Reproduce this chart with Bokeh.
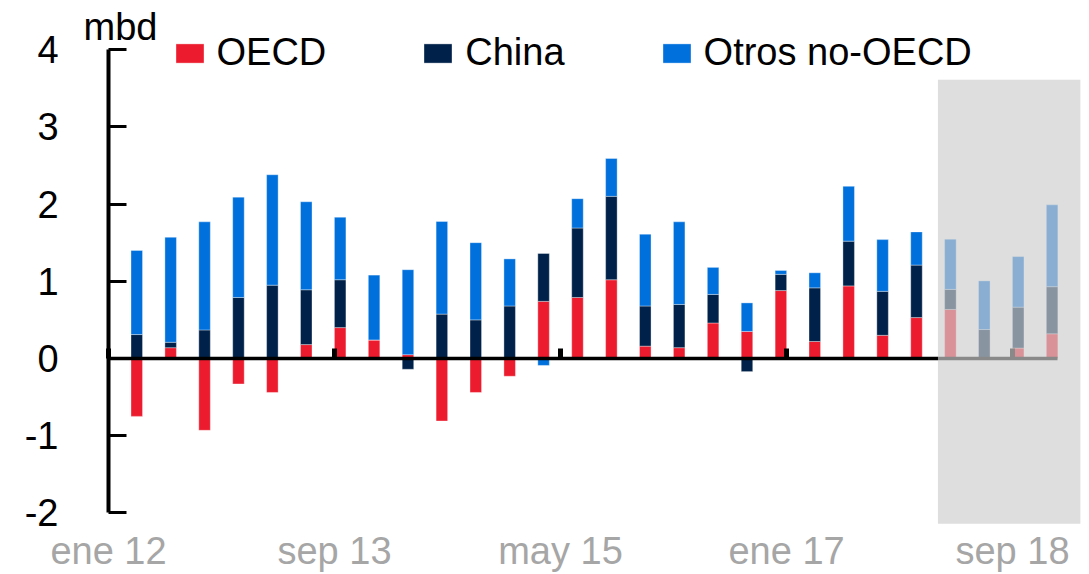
from bokeh.plotting import figure
from bokeh.models import (ColumnDataSource, LinearAxis, FixedTicker, BoxAnnotation,
                          Legend, LegendItem, Label, Range1d)
from bokeh.embed import file_html
from bokeh.resources import INLINE

# ---------------- data (mbd, quarterly, I-2012 ... IV-2018) ----------------
quarters = [f"{q}T{y}" for y in range(2012, 2019) for q in ("I", "II", "III", "IV")]
oecd = [-0.75, 0.14, -0.93, -0.33, -0.44, 0.18, 0.40, 0.24,
        0.05, -0.81, -0.44, -0.23, 0.74, 0.79, 1.02, 0.16,
        0.14, 0.46, 0.35, 0.88, 0.22, 0.94, 0.30, 0.53,
        0.635, 0.00, 0.135, 0.32]
china = [0.31, 0.07, 0.37, 0.79, 0.95, 0.71, 0.62, 0.00,
         -0.14, 0.575, 0.50, 0.68, 0.62, 0.90, 1.08, 0.52,
         0.56, 0.37, -0.17, 0.21, 0.695, 0.58, 0.57, 0.68,
         0.26, 0.375, 0.53, 0.61]
otros = [1.09, 1.36, 1.40, 1.30, 1.43, 1.14, 0.81, 0.84,
         1.10, 1.20, 1.00, 0.61, -0.09, 0.38, 0.49, 0.93,
         1.07, 0.35, 0.37, 0.05, 0.195, 0.71, 0.67, 0.43,
         0.65, 0.63, 0.655, 1.06]
series_names = ["OECD", "China", "Otros no-OECD"]
series_colors = ["#EC1C2E", "#00224A", "#0070DC"]
tick_months = [0, 20, 40, 60, 80]          # months since ene 2012
tick_labels = ["ene 12", "sep 13", "may 15", "ene 17", "sep 18"]
y_ticks = [-2, -1, 0, 1, 2, 3, 4]
y_tick_labels = ["-2", "-1", "0", "1", "2", "3", "4"]
unit_label = "mbd"
n_forecast = 4                              # last quarters shaded (projection)

# ---------------- geometry derived from data ----------------
x = [3 * i + 2.5 for i in range(len(quarters))]   # mid of last month of each quarter
pos = [0.0] * len(x)
neg = [0.0] * len(x)
stacks = []
for vals in (oecd, china, otros):
    bottoms, tops = [], []
    for i, v in enumerate(vals):
        if v >= 0:
            bottoms.append(pos[i]); tops.append(pos[i] + v); pos[i] += v
        else:
            bottoms.append(neg[i]); tops.append(neg[i] + v); neg[i] += v
    stacks.append((bottoms, tops))

FONT = "Liberation Sans"
FS = "38px"

p = figure(width=1089, height=574, output_backend="svg", toolbar_location=None,
           x_range=Range1d(-9.558, 86.81), y_range=Range1d(-2.798, 4.637),
           x_axis_location=None, y_axis_location=None,
           min_border=0)
p.outline_line_color = None
p.xgrid.visible = False
p.ygrid.visible = False
p.background_fill_color = "white"

renderers = []
for (b, t), name, col in zip(stacks, series_names, series_colors):
    src = ColumnDataSource(dict(x=x, bottom=b, top=t))
    r = p.vbar(x="x", bottom="bottom", top="top", width=1.02, source=src,
               fill_color=col, line_color="white", line_alpha=0.35, line_width=1)
    renderers.append(r)

# y axis at x = 0
ya = LinearAxis(fixed_location=0, ticker=FixedTicker(ticks=y_ticks), bounds=(-2, 4))
ya.major_label_overrides = {t: s for t, s in zip(y_ticks, y_tick_labels)}
ya.axis_line_width = 4
ya.axis_line_color = "black"
ya.major_tick_in = 18
ya.major_tick_out = 0
ya.major_tick_line_width = 3
ya.minor_tick_line_color = None
ya.major_label_standoff = 50
ya.major_label_text_font = FONT
ya.major_label_text_font_size = FS
ya.major_label_text_color = "black"
p.add_layout(ya, "left")

# zero line with small upward ticks; date labels hang at the bottom
xa = LinearAxis(fixed_location=0, ticker=FixedTicker(ticks=tick_months),
                bounds=(0, 3 * len(quarters)))
xa.major_label_overrides = {m: lab for m, lab in zip(tick_months, tick_labels)}
xa.axis_line_width = 3.5
xa.axis_line_color = "black"
xa.major_tick_in = 10
xa.major_tick_out = 0
xa.major_tick_line_width = 5
xa.minor_tick_line_color = None
xa.major_label_standoff = 172
xa.major_label_text_font = FONT
xa.major_label_text_font_size = FS
xa.major_label_text_color = "#A6A6A6"
p.add_layout(xa, "below")

# projection shading
first_fc = x[len(x) - n_forecast]
shade = BoxAnnotation(left=first_fc - 1.1, right=x[-1] + 2.5, bottom=-2.14, top=3.61,
                      fill_color="#CDCDCD", fill_alpha=0.667, line_color=None)
p.add_layout(shade)

# unit label
p.add_layout(Label(x=1.06, y=4.30, text=unit_label, text_align="center",
                   text_baseline="alphabetic", text_font=FONT, text_font_size=FS,
                   text_color="black"))

legend = Legend(items=[LegendItem(label=n, renderers=[r]) for n, r in zip(series_names, renderers)],
                orientation="horizontal", location=(171.5, 500))
legend.glyph_width = 35
legend.glyph_height = 24
legend.label_standoff = 10
legend.spacing = 94
legend.padding = 0
legend.margin = 0
legend.border_line_color = None
legend.background_fill_alpha = 0
legend.label_text_font = FONT
legend.label_text_font_size = FS
legend.label_text_color = "black"
p.add_layout(legend)

open("out.html", "w").write(file_html(p, INLINE))
